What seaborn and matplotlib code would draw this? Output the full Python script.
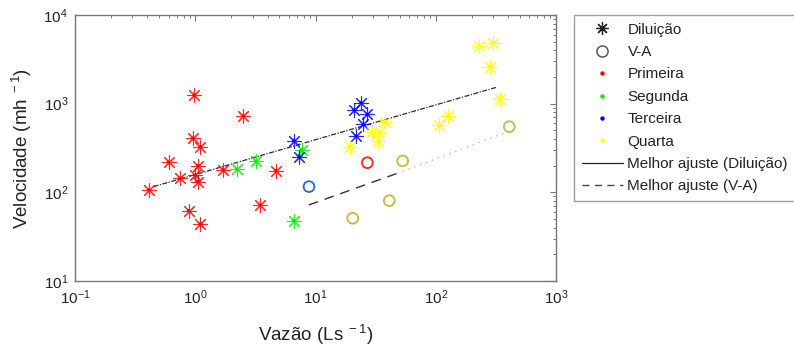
import matplotlib
matplotlib.use("Agg")
import matplotlib.pyplot as plt
from matplotlib.lines import Line2D
from matplotlib.ticker import LogLocator, NullFormatter
import seaborn as sns
import pandas as pd
import numpy as np

# ---- data ----
prim_dil_x = [0.41, 0.98, 2.51, 0.95, 1.10, 0.60, 1.05, 0.74, 1.00, 1.05, 1.71, 4.69, 3.46, 0.88, 1.10]
prim_dil_y = [106, 1253, 726, 406, 327, 218, 200, 144, 157, 132, 179, 175, 72, 62, 44]
seg_dil_x = [2.21, 3.18, 7.67, 6.62]
seg_dil_y = [182, 226, 300, 48]
ter_dil_x = [6.62, 7.33, 20.9, 23.9, 27.0, 25.0, 21.7]
ter_dil_y = [382, 253, 849, 1026, 759, 585, 431]
qua_dil_x = [19.4, 29.3, 33.9, 33.3, 37.9, 107, 126, 230, 301, 282, 342]
qua_dil_y = [327, 483, 483, 382, 617, 574, 731, 4470, 4870, 2610, 1130]

prim_va_x = [27.0]
prim_va_y = [216]
ter_va_x = [8.83]
ter_va_y = [116]
qua_va_x = [20.4, 53.1, 41.1, 409]
qua_va_y = [51, 226, 80.5, 550]

dil_fit_x = [0.45, 320]
dil_fit_y = [116, 1530]
va_fit_dash_x = [8.8, 53]
va_fit_dash_y = [72, 172]
va_fit_dot_x = [53, 365]
va_fit_dot_y = [172, 463]

series_names = ["Primeira", "Segunda", "Terceira", "Quarta"]
series_colors = ["#ff0000", "#00ee00", "#0000ff", "#ffff00"]
va_colors = {"Primeira": "#ff2020", "Terceira": "#2a64c8", "Quarta": "#c8b83c"}

# ---- style ----
sns.set_theme(style="white")
plt.rcParams["font.family"] = ["Liberation Sans", "DejaVu Sans"]
plt.rcParams["mathtext.fontset"] = "custom"
plt.rcParams["mathtext.rm"] = "Liberation Sans"
plt.rcParams["mathtext.it"] = "Liberation Sans:italic"
plt.rcParams["mathtext.bf"] = "Liberation Sans:bold"

fig = plt.figure(figsize=(7.94, 3.5), dpi=100)
ax = fig.add_axes([75 / 794, 1 - 281 / 350, (556 - 75) / 794, (281 - 15) / 350])
ax.set_xscale("log")
ax.set_yscale("log")

star = (8, 2, 0)
dil_sets = [(prim_dil_x, prim_dil_y), (seg_dil_x, seg_dil_y), (ter_dil_x, ter_dil_y), (qua_dil_x, qua_dil_y)]
for (xs, ys), name, col in zip(dil_sets, series_names, series_colors):
    df = pd.DataFrame({"x": xs, "y": ys})
    sns.scatterplot(data=df, x="x", y="y", marker=star, s=95, color=col,
                    edgecolor=col, linewidth=0.8, alpha=0.85, ax=ax, legend=False, zorder=3)
    sns.scatterplot(data=df, x="x", y="y", marker="o", s=5, color=col,
                    edgecolor="none", linewidth=0, ax=ax, legend=False, zorder=4)

va_sets = [("Primeira", prim_va_x, prim_va_y), ("Terceira", ter_va_x, ter_va_y), ("Quarta", qua_va_x, qua_va_y)]
for name, xs, ys in va_sets:
    df = pd.DataFrame({"x": xs, "y": ys})
    sns.scatterplot(data=df, x="x", y="y", marker="o", s=60, facecolor="none",
                    edgecolor=va_colors[name], linewidth=1.3, ax=ax, legend=False, zorder=3)

sns.lineplot(x=dil_fit_x, y=dil_fit_y, ax=ax, color="#2a2a2a", linewidth=0.9,
             linestyle=(0, (4, 1.2, 1, 1.2)), zorder=2)
sns.lineplot(x=va_fit_dash_x, y=va_fit_dash_y, ax=ax, color="#333333", linewidth=1.0,
             linestyle=(0, (7, 5)), zorder=2)
sns.lineplot(x=va_fit_dot_x, y=va_fit_dot_y, ax=ax, color="#aaaaaa", linewidth=0.9,
             linestyle=(0, (1, 4)), zorder=2)

ax.set_xlim(0.1, 1000)
ax.set_ylim(10, 10000)
ax.xaxis.set_major_locator(LogLocator(base=10, numticks=10))
ax.yaxis.set_major_locator(LogLocator(base=10, numticks=10))
ax.xaxis.set_minor_locator(LogLocator(base=10, subs=np.arange(2, 10), numticks=20))
ax.yaxis.set_minor_locator(LogLocator(base=10, subs=np.arange(2, 10), numticks=20))
ax.xaxis.set_minor_formatter(NullFormatter())
ax.yaxis.set_minor_formatter(NullFormatter())

spine_col = "#777777"
for sp in ax.spines.values():
    sp.set_visible(True)
    sp.set_color(spine_col)
    sp.set_linewidth(1.0)
ax.tick_params(which="both", direction="in", top=True, right=True, color=spine_col,
               labelsize=11, labelcolor="#222222")
ax.tick_params(which="major", length=4, width=0.8, pad=5)
ax.tick_params(which="minor", length=2.2, width=0.7)

ax.set_xlabel(r"Vazão (Ls$^{\ -1}$)", fontsize=13.5, color="#222222", labelpad=12)
ax.set_ylabel(r"Velocidade (mh$^{\ -1}$)", fontsize=13.5, color="#222222", labelpad=7)

# ---- legend ----
handles = [
    Line2D([], [], linestyle="none", marker=star, markersize=9, color="#222222", markeredgewidth=0.9),
    Line2D([], [], linestyle="none", marker="o", markersize=8, markerfacecolor="none",
           markeredgecolor="#555555", markeredgewidth=1.1),
]
for name, col in zip(series_names, series_colors):
    handles.append(Line2D([], [], linestyle="none", marker="o", markersize=2.2, color=col))
handles.append(Line2D([], [], color="#222222", linewidth=0.9, linestyle="-"))
handles.append(Line2D([], [], color="#444444", linewidth=1.0, linestyle=(0, (5, 4))))
labels = ["Diluição", "V-A"] + series_names + ["Melhor ajuste (Diluição)", "Melhor ajuste (V-A)"]

leg = fig.legend(handles, labels, loc="upper left", bbox_to_anchor=(574 / 794, 1 - 15 / 350),
                 bbox_transform=fig.transFigure, frameon=True, fancybox=False, fontsize=11,
                 handlelength=2.7, handletextpad=0.3, labelspacing=0.55, borderpad=0.5,
                 borderaxespad=0)
leg.get_frame().set_edgecolor("#888888")
leg.get_frame().set_linewidth(1.0)
for t in leg.get_texts():
    t.set_color("#222222")

fig.savefig("out.png", dpi=100)
